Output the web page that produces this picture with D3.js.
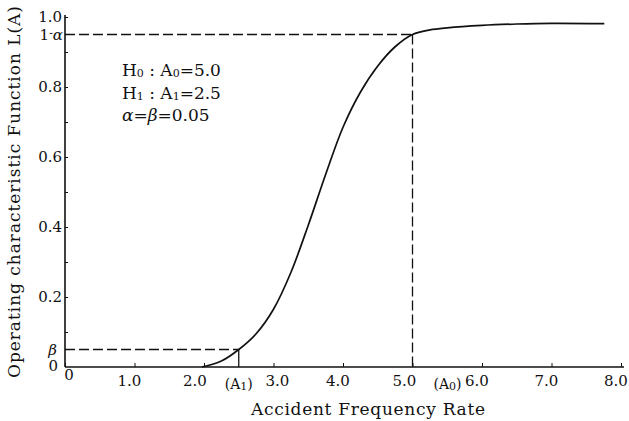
<!DOCTYPE html>
<html>
<head>
<meta charset="utf-8">
<script src="https://cdn.jsdelivr.net/npm/d3@7"></script>
<style>
  html, body { margin: 0; padding: 0; background: #fff; }
  svg { display: block; }
</style>
</head>
<body>
<svg id="chart" width="629" height="421" font-family="'DejaVu Serif', 'Liberation Serif', serif"></svg>
<script>
// Operating characteristic curve L(A) of the sequential test
const rateValues = [1.97, 2.25, 2.5, 2.75, 3.0, 3.25, 3.5, 3.75, 4.0, 4.25, 4.5, 4.75, 5.0, 5.25, 5.5, 6.0, 6.5, 7.0, 7.76];
const ocValues   = [0.0, 0.017, 0.05, 0.095, 0.165, 0.27, 0.405, 0.55, 0.685, 0.785, 0.86, 0.915, 0.95, 0.963, 0.969, 0.976, 0.98, 0.982, 0.981];

const xTickValues = [0, 1, 2, 3, 4, 5, 6, 7, 8];
const xTickLabels = ["0", "1.0", "2.0", "3.0", "4.0", "5.0", "6.0", "7.0", "8.0"];
const yTickValues = [0.2, 0.4, 0.6, 0.8, 1.0];
const yTickLabels = ["0.2", "0.4", "0.6", "0.8", "1.0"];
const yMinorTicks = [0.1, 0.3, 0.5, 0.7, 0.9];

const A1 = 2.5, A0 = 5.0, alpha = 0.05, beta = 0.05;

const svg = d3.select("#chart");
const x = d3.scaleLinear().domain([0, 8]).range([65, 621]);
const y = d3.scaleLinear().domain([0, 1]).range([367, 17]);

const ink = "#111";

// axes
const xAxis = d3.axisBottom(x).tickValues(xTickValues).tickSize(-4).tickFormat(() => "");
const gx = svg.append("g").attr("transform", `translate(0,${y(0)})`).call(xAxis);
gx.select(".domain").attr("stroke", ink).attr("stroke-width", 1.6).attr("d", `M${x(0)},0H${x(8) + 3}`);
gx.selectAll(".tick line").attr("stroke", ink).attr("stroke-width", 1);

const yAxis = d3.axisLeft(y).tickValues(yTickValues.concat(yMinorTicks)).tickSize(-3).tickFormat(() => "");
const gy = svg.append("g").attr("transform", `translate(${x(0)},0)`).call(yAxis);
gy.select(".domain").attr("stroke", ink).attr("stroke-width", 1.6).attr("d", `M0,${y(0)}V${y(1) - 2}`);
gy.selectAll(".tick line").attr("stroke", ink).attr("stroke-width", 1);

// x tick labels, nudged apart where the (A) labels sit between them
const xNudge = d => d === 0 ? 4 : d === 2 ? -9 : d === 3 ? 4 : d === 5 ? -8 : -5;
svg.append("g").selectAll("text").data(xTickValues).join("text")
  .attr("x", d => x(d) + xNudge(d))
  .attr("y", d => d === 0 ? 380 : 386)
  .attr("text-anchor", "middle")
  .attr("font-size", 15)
  .attr("fill", ink)
  .text((d, i) => xTickLabels[i]);

// y tick labels
svg.append("g").selectAll("text").data(yTickValues).join("text")
  .attr("x", x(0) - 3)
  .attr("y", d => y(d) + 5)
  .attr("text-anchor", "end")
  .attr("font-size", 15)
  .attr("fill", ink)
  .text((d, i) => yTickLabels[i]);
svg.append("text").attr("x", x(0) - 7).attr("y", y(0) + 4)
  .attr("text-anchor", "end").attr("font-size", 15).attr("fill", ink).text("0");

// 1-α and β labels on the y axis
svg.append("text").attr("x", x(0) - 2).attr("y", y(1 - alpha) + 5)
  .attr("text-anchor", "end").attr("font-size", 15).attr("fill", ink)
  .html('1<tspan font-size="11" dy="-3">-</tspan><tspan dy="3" font-style="italic">α</tspan>');
svg.append("text").attr("x", x(0) - 8).attr("y", y(beta) + 5)
  .attr("text-anchor", "end").attr("font-size", 15).attr("font-style", "italic").attr("fill", ink).text("β");

// A1 / A0 labels on the x axis
function subLabel(cx, sub) {
  const t = svg.append("text").attr("x", cx).attr("y", 389)
    .attr("text-anchor", "middle").attr("font-size", 14).attr("fill", ink);
  t.append("tspan").text("(A");
  t.append("tspan").attr("font-size", 11).attr("dy", 1).text(sub);
  t.append("tspan").attr("dy", -1).text(")");
}
subLabel(x(A1), "1");
subLabel(x(A0) + 35, "0");

// reference dashed lines
const dash = "10,4";
function ref(d, dashed) {
  svg.append("path").attr("d", d)
    .attr("stroke", ink).attr("stroke-width", 1.3).attr("fill", "none")
    .attr("stroke-dasharray", dashed ? dash : null);
}
ref(`M${x(0)},${y(beta)}H${x(A1)}`, true);
ref(`M${x(A1)},${y(beta)}V${y(0)}`, false);
ref(`M${x(0)},${y(1 - alpha)}H${x(A0)}`, true);
ref(`M${x(A0)},${y(1 - alpha)}V${y(0)}`, true);

// OC curve
const pts = rateValues.map((r, i) => [r, ocValues[i]]);
const line = d3.line().x(d => x(d[0])).y(d => y(d[1])).curve(d3.curveCatmullRom.alpha(0.5));
svg.append("path").datum(pts)
  .attr("d", line)
  .attr("fill", "none").attr("stroke", ink).attr("stroke-width", 1.7);

// hypothesis annotation
const ann = svg.append("g").attr("font-size", 17).attr("fill", ink);
function hyp(yPos, h, val) {
  const t = ann.append("text").attr("x", 122).attr("y", yPos);
  t.append("tspan").text("H");
  t.append("tspan").attr("font-size", 11).attr("dy", 1).text(h);
  t.append("tspan").attr("dy", -1).text(" : A");
  t.append("tspan").attr("font-size", 11).attr("dy", 1).text(h);
  t.append("tspan").attr("dy", -1).text("=" + val);
}
hyp(76, "0", "5.0");
hyp(99, "1", "2.5");
ann.append("text").attr("x", 122).attr("y", 121)
  .html('<tspan font-style="italic">α</tspan>=<tspan font-style="italic">β</tspan>=0.05');

// axis titles
svg.append("text").attr("x", 368).attr("y", 415).attr("text-anchor", "middle")
  .attr("font-size", 17).attr("fill", ink)
  .attr("textLength", 234).attr("lengthAdjust", "spacing")
  .text("Accident Frequency Rate");
svg.append("text").attr("transform", "translate(20,192) rotate(-90)")
  .attr("text-anchor", "middle").attr("font-size", 17).attr("fill", ink)
  .attr("textLength", 372).attr("lengthAdjust", "spacing")
  .text("Operating characteristic Function L(A)");
</script>
</body>
</html>
